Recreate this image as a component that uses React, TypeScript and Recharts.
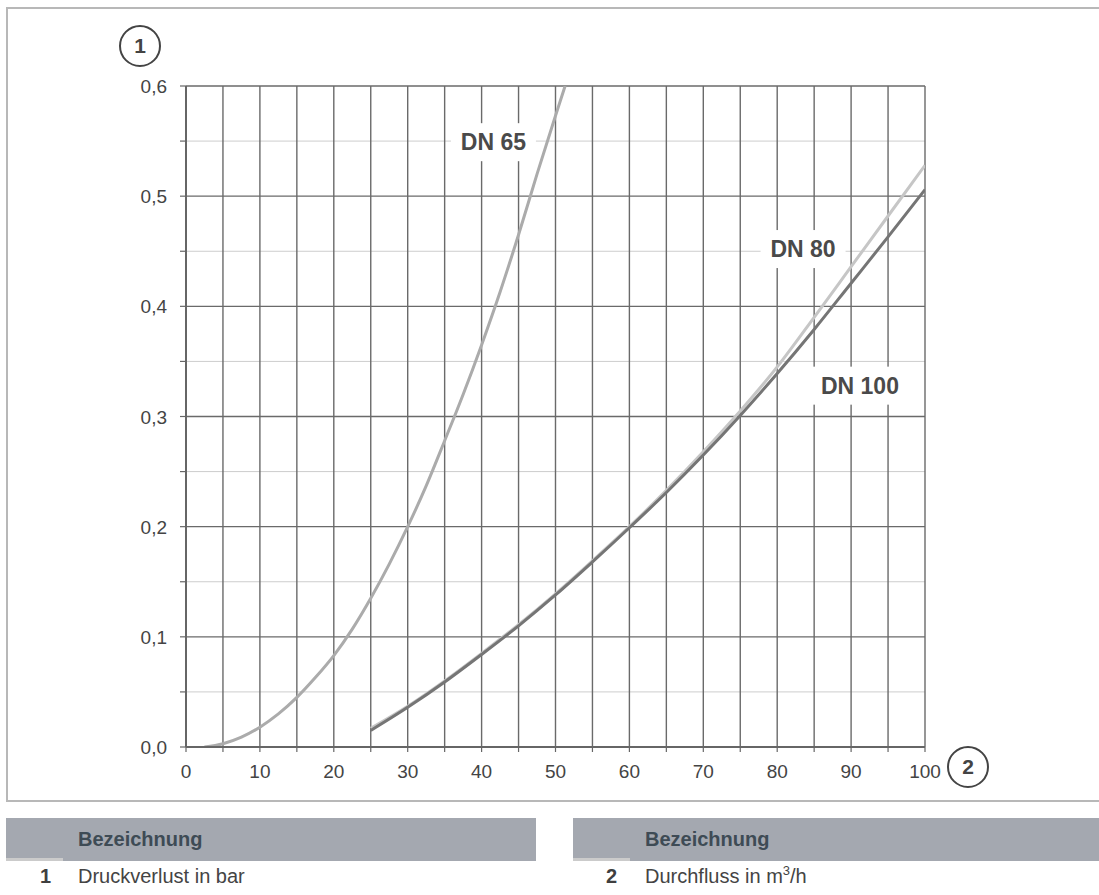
import { LineChart, Line, XAxis, YAxis, CartesianGrid, ReferenceDot } from "recharts"

// Durchfluss (m³/h) and Druckverlust (bar)
const flowDN65 = [2.5, 5, 7.5, 10, 12.5, 15, 17.5, 20, 22.5, 25, 27.5, 30, 32.5, 35, 37.5, 40, 42.5, 45, 47.5, 50, 51.3]
const lossDN65 = [0, 0.003, 0.009, 0.018, 0.03, 0.045, 0.063, 0.083, 0.107, 0.135, 0.166, 0.2, 0.237, 0.278, 0.32, 0.365, 0.413, 0.465, 0.52, 0.573, 0.6]

const flowLarge = [25, 30, 35, 40, 45, 50, 55, 60, 65, 70, 75, 80, 85, 90, 95, 100]
const lossDN80 = [0.017, 0.037, 0.06, 0.085, 0.111, 0.139, 0.169, 0.2, 0.233, 0.268, 0.305, 0.345, 0.39, 0.436, 0.482, 0.528]
const lossDN100 = [0.015, 0.036, 0.059, 0.084, 0.11, 0.138, 0.168, 0.199, 0.231, 0.265, 0.301, 0.339, 0.379, 0.421, 0.463, 0.506]

const xTicks = [0, 5, 10, 15, 20, 25, 30, 35, 40, 45, 50, 55, 60, 65, 70, 75, 80, 85, 90, 95, 100]
const yTicks = [0, 0.05, 0.1, 0.15, 0.2, 0.25, 0.3, 0.35, 0.4, 0.45, 0.5, 0.55, 0.6]
const yMajor = [0, 0.1, 0.2, 0.3, 0.4, 0.5, 0.6]
const yMinor = [0.05, 0.15, 0.25, 0.35, 0.45, 0.55]
const xGrid = [5, 10, 15, 20, 25, 30, 35, 40, 45, 50, 55, 60, 65, 70, 75, 80, 85, 90, 95, 100]

const seriesNames = ["DN 65", "DN 80", "DN 100"]
const labelFlow = [41.6, 83.5, 91.2]
const labelLoss = [0.549, 0.452, 0.328]

const toPoints = (xs: number[], ys: number[]) => xs.map((x, i) => ({ x, y: ys[i] }))

const series = [
  { name: seriesNames[0], data: toPoints(flowDN65, lossDN65), color: "#ababab" },
  { name: seriesNames[1], data: toPoints(flowLarge, lossDN80), color: "#c6c6c6" },
  { name: seriesNames[2], data: toPoints(flowLarge, lossDN100), color: "#757575" },
]

const FONT = "'Liberation Sans', Arial, sans-serif"

function XTick({ x, y, payload }: any) {
  if (payload.value % 10 !== 0) return null
  return (
    <text x={x} y={y} dy={26} textAnchor="middle" fontSize={19} fill="#444" fontFamily={FONT}>
      {payload.value}
    </text>
  )
}

function YTick({ x, y, payload }: any) {
  const v = payload.value
  if (Math.abs(v * 10 - Math.round(v * 10)) > 1e-6) return null
  return (
    <text x={x} y={y} dy={7} textAnchor="end" fontSize={19} fill="#444" fontFamily={FONT}>
      {v.toFixed(1).replace(".", ",")}
    </text>
  )
}

function CurveTag({ cx, cy, text }: any) {
  const w = text.length * 13 + 20
  return (
    <g>
      <rect x={cx - w / 2} y={cy - 19} width={w} height={38} fill="#fff" />
      <text x={cx} y={cy} dy={8} textAnchor="middle" fontSize={23} fontWeight="bold" fill="#4a4a4a" fontFamily={FONT}>
        {text}
      </text>
    </g>
  )
}

function Circled({ left, top, n }: { left: number; top: number; n: string }) {
  return (
    <div
      style={{
        position: "absolute",
        left: left - 21,
        top: top - 21,
        width: 38,
        height: 38,
        border: "2px solid #444",
        borderRadius: "50%",
        display: "flex",
        alignItems: "center",
        justifyContent: "center",
        fontFamily: FONT,
        fontWeight: "bold",
        fontSize: 21,
        color: "#444",
      }}
    >
      {n}
    </div>
  )
}

function HeaderBar({ left, width }: { left: number; width: number }) {
  return (
    <div style={{ position: "absolute", left, top: 818, width, height: 43, background: "#a4a8b0" }}>
      <div style={{ position: "absolute", left: 0, bottom: 0, width: 57, height: 3, background: "#cbcbcb" }} />
      <div
        style={{
          position: "absolute",
          left: 72,
          top: 10,
          fontFamily: FONT,
          fontWeight: "bold",
          fontSize: 20,
          color: "#3e4b55",
        }}
      >
        Bezeichnung
      </div>
    </div>
  )
}

export default function App() {
  return (
    <div style={{ position: "absolute", left: 0, top: 0, width: 1099, height: 895, background: "#fff", overflow: "hidden" }}>
      <div
        style={{
          position: "absolute",
          left: 6,
          top: 7,
          width: 1100,
          height: 791,
          borderTop: "2px solid #b8b8b8",
          borderLeft: "2px solid #b8b8b8",
          borderBottom: "2px solid #b8b8b8",
        }}
      />
      <div style={{ position: "absolute", left: 0, top: 0 }}>
        <LineChart width={1099} height={800} margin={{ top: 86, right: 174, bottom: 23, left: 126 }}>
          <CartesianGrid horizontalValues={yMinor} vertical={false} stroke="#cdcdcd" strokeWidth={1} />
          <CartesianGrid horizontalValues={yMajor} verticalValues={xGrid} stroke="#6a6a6a" strokeWidth={1.4} />
          <XAxis
            type="number"
            dataKey="x"
            domain={[0, 100]}
            ticks={xTicks}
            interval={0}
            height={30}
            tickSize={5}
            tickMargin={0}
            axisLine={{ stroke: "#666", strokeWidth: 2 }}
            tickLine={{ stroke: "#666", strokeWidth: 1.2 }}
            tick={<XTick />}
            allowDataOverflow
          />
          <YAxis
            type="number"
            dataKey="y"
            domain={[0, 0.6]}
            ticks={yTicks}
            interval={0}
            width={60}
            tickSize={6}
            tickMargin={13}
            axisLine={{ stroke: "#666", strokeWidth: 2 }}
            tickLine={{ stroke: "#666", strokeWidth: 1.2 }}
            tick={<YTick />}
            allowDataOverflow
          />
          {series.map((s) => (
            <Line
              key={s.name}
              data={s.data}
              dataKey="y"
              type="monotone"
              stroke={s.color}
              strokeWidth={3}
              dot={false}
              activeDot={false}
              isAnimationActive={false}
            />
          ))}
          {seriesNames.map((name, i) => (
            <ReferenceDot
              key={name}
              x={labelFlow[i]}
              y={labelLoss[i]}
              r={0}
              shape={(p: any) => <CurveTag cx={p.cx} cy={p.cy} text={name} />}
            />
          ))}
        </LineChart>
      </div>
      <Circled left={140} top={46} n="1" />
      <Circled left={968} top={767} n="2" />

      <HeaderBar left={6} width={530} />
      <HeaderBar left={573} width={526} />
      <div style={{ position: "absolute", left: 40, top: 865, fontFamily: FONT, fontWeight: "bold", fontSize: 20, color: "#3f3f3f" }}>1</div>
      <div style={{ position: "absolute", left: 78, top: 865, fontFamily: FONT, fontSize: 20, color: "#444" }}>Druckverlust in bar</div>
      <div style={{ position: "absolute", left: 606, top: 865, fontFamily: FONT, fontWeight: "bold", fontSize: 20, color: "#3f3f3f" }}>2</div>
      <div style={{ position: "absolute", left: 645, top: 865, fontFamily: FONT, fontSize: 20, color: "#444" }}>
        Durchfluss in m<sup style={{ fontSize: 13, lineHeight: 0 }}>3</sup>/h
      </div>
    </div>
  )
}
